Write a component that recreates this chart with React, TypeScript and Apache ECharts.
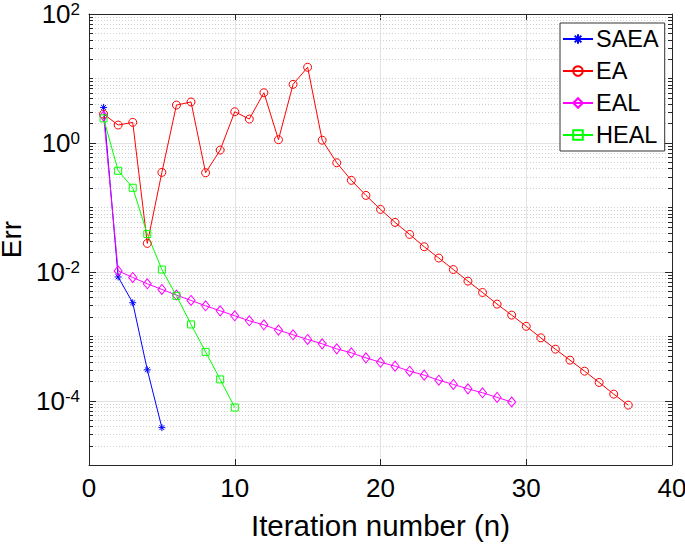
import React, { useEffect, useRef } from 'react';
import * as echarts from 'echarts';

const FONT = '"Liberation Sans", Arial, Helvetica, sans-serif';

const seriesNames = ['SAEA', 'EA', 'EAL', 'HEAL'];

const errSAEA = [3.55, 0.0083, 0.0033, 3.0e-4, 3.8e-5];

const errEA = [
  2.8, 1.89, 2.08, 0.0275, 0.348, 3.86, 4.31, 0.344, 0.773, 3.04,
  2.34, 6.0, 1.12, 8.09, 14.9, 1.1, 0.491, 0.262, 0.153, 0.0927,
  0.0582, 0.0379, 0.0244, 0.0163, 0.0108, 0.00714, 0.00476, 0.00314, 0.00212, 0.00142,
  9.42e-4, 6.28e-4, 4.24e-4, 2.86e-4, 1.91e-4, 1.26e-4, 8.5e-5,
];

const errEAL = [
  2.6, 0.0103, 0.00815, 0.00649, 0.00531, 0.00434, 0.00358, 0.00296, 0.00247, 0.00207,
  0.00173, 0.0015, 0.00124, 0.00105, 8.89e-4, 7.59e-4, 6.35e-4, 5.51e-4, 4.6e-4, 3.93e-4,
  3.42e-4, 2.86e-4, 2.48e-4, 2.07e-4, 1.78e-4, 1.52e-4, 1.32e-4, 1.12e-4, 9.5e-5,
];

const errHEAL = [2.4, 0.369, 0.201, 0.0384, 0.0108, 0.00423, 0.00152, 5.7e-4, 2.13e-4, 7.8e-5];

const xTicks = [0, 10, 20, 30, 40];
const yMin = 1e-5;
const yMax = 1e2;
const labelledExponents = [-4, -2, 0, 2];

const toPoints = (arr: number[]) => arr.map((v, i) => [i + 1, v]);

export default function App() {
  const ref = useRef<HTMLDivElement>(null);

  useEffect(() => {
    if (!ref.current) return;
    const chart = echarts.init(ref.current, null, { renderer: 'svg' });

    // y-axis grid structure (log decades and their subdivisions)
    const gridRows: number[][] = [];
    for (let d = -5; d <= 1; d++) {
      for (let k = 1; k <= 9; k++) {
        const v = k * Math.pow(10, d);
        if (v <= yMin || v >= yMax) continue;
        const major = k === 1 && labelledExponents.includes(d) ? 1 : 0;
        gridRows.push([0, v, major]);
      }
    }

    const lineSeries = (name: string, data: number[], color: string, symbol: string, symbolSize: any) => ({
      name,
      type: 'line',
      data: toPoints(data),
      symbol,
      symbolSize,
      showAllSymbol: true,
      lineStyle: { color, width: 1 },
      itemStyle: { color: 'rgba(255,255,255,0)', borderColor: color, borderWidth: 1 },
      z: 3,
    });

    const option: any = {
      animation: false,
      backgroundColor: '#fff',
      grid: { left: 89, top: 14, right: 13, bottom: 79, outerBoundsMode: 'none' },
      legend: {
        data: seriesNames,
        orient: 'vertical',
        left: 560,
        top: 23,
        padding: [4, 6, 4, 2],
        itemWidth: 30,
        itemHeight: 12,
        itemGap: 8,
        borderColor: '#333',
        borderWidth: 1,
        backgroundColor: '#fff',
        textStyle: { fontSize: 23.5, fontFamily: FONT, color: '#000', padding: [0, 0, 0, -2] },
      },
      xAxis: [
        {
          type: 'value',
          min: xTicks[0],
          max: xTicks[xTicks.length - 1],
          interval: 10,
          position: 'bottom',
          name: 'Iteration number (n)',
          nameLocation: 'middle',
          nameGap: 45,
          nameTextStyle: { fontSize: 29.5, fontFamily: FONT, color: '#000' },
          axisLine: { show: true, onZero: false, lineStyle: { color: '#262626', width: 1 } },
          axisTick: { show: true, inside: true, length: 6, lineStyle: { color: '#262626' } },
          axisLabel: { fontSize: 26, fontFamily: FONT, color: '#000', margin: 10 },
          splitLine: { show: true, lineStyle: { color: '#e3e3e3', width: 1 } },
        },
        {
          type: 'value',
          min: xTicks[0],
          max: xTicks[xTicks.length - 1],
          interval: 10,
          position: 'top',
          axisLine: { show: true, onZero: false, lineStyle: { color: '#262626', width: 1 } },
          axisTick: { show: true, inside: true, length: 6, lineStyle: { color: '#262626' } },
          axisLabel: { show: false },
          splitLine: { show: false },
        },
      ],
      yAxis: [
        {
          type: 'log',
          logBase: 10,
          min: yMin,
          max: yMax,
          position: 'left',
          name: 'Err',
          nameLocation: 'middle',
          nameGap: 57,
          nameTextStyle: { fontSize: 28, lineHeight: 26, fontFamily: FONT, color: '#000' },
          axisLine: { show: true, onZero: false, lineStyle: { color: '#262626', width: 1 } },
          axisTick: { show: false },
          splitLine: { show: false },
          axisLabel: {
            margin: 9,
            formatter: (v: number) => {
              const e = Math.round(Math.log10(v));
              return labelledExponents.includes(e) ? `{b|10}{s|${e}}` : '';
            },
            rich: {
              b: { fontSize: 26, fontFamily: FONT, color: '#000', verticalAlign: 'bottom' },
              s: { fontSize: 17, fontFamily: FONT, color: '#000', verticalAlign: 'top' },
            },
          },
        },
        {
          type: 'log',
          logBase: 10,
          min: yMin,
          max: yMax,
          position: 'right',
          axisLine: { show: true, onZero: false, lineStyle: { color: '#262626', width: 1 } },
          axisTick: { show: false },
          splitLine: { show: false },
          axisLabel: { show: false },
        },
      ],
      series: [
        {
          name: 'ygrid',
          type: 'custom',
          silent: true,
          z: 1,
          data: gridRows,
          renderItem: (params: any, api: any) => {
            const v = api.value(1);
            const major = api.value(2) === 1;
            const a = api.coord([xTicks[0], v]);
            const b = api.coord([xTicks[xTicks.length - 1], v]);
            const y = Math.round(a[1]) + 0.5;
            const tl = major ? 7 : 4;
            return {
              type: 'group',
              children: [
                {
                  type: 'line',
                  shape: { x1: a[0], y1: y, x2: b[0], y2: y },
                  style: major
                    ? { stroke: '#e3e3e3', lineWidth: 1 }
                    : { stroke: '#cfcfcf', lineWidth: 1, lineDash: [1, 2] },
                },
                {
                  type: 'line',
                  shape: { x1: a[0], y1: y, x2: a[0] + tl, y2: y },
                  style: { stroke: '#262626', lineWidth: 1 },
                },
                {
                  type: 'line',
                  shape: { x1: b[0] - tl, y1: y, x2: b[0], y2: y },
                  style: { stroke: '#262626', lineWidth: 1 },
                },
              ],
            };
          },
        },
        lineSeries('SAEA', errSAEA, '#0000ff', 'path://M5,0L5,10M0,5L10,5M1.5,1.5L8.5,8.5M1.5,8.5L8.5,1.5', 7),
        lineSeries('EA', errEA, '#ff0000', 'circle', 8),
        lineSeries('EAL', errEAL, '#ff00ff', 'diamond', [8, 10]),
        lineSeries('HEAL', errHEAL, '#00ff00', 'rect', 7),
      ],
    };

    chart.setOption(option);
    return () => chart.dispose();
  }, []);

  return (
    <div
      ref={ref}
      style={{ position: 'absolute', left: 0, top: 0, width: 685, height: 544 }}
    />
  );
}
